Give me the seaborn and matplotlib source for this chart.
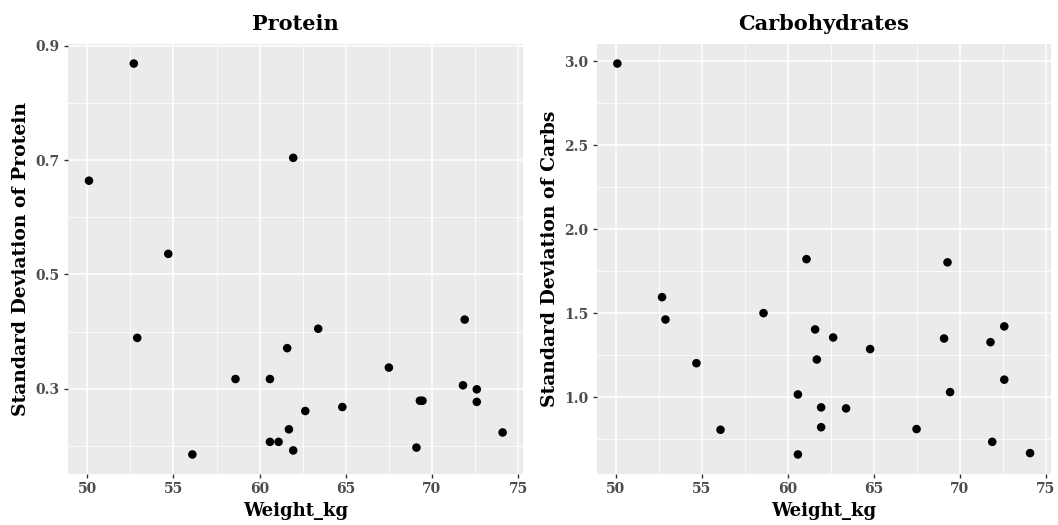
import numpy as np
import pandas as pd
import matplotlib
matplotlib.use("Agg")
import matplotlib.pyplot as plt
import seaborn as sns
from matplotlib.ticker import MultipleLocator, FixedLocator

# ---- data ----
weight_kg = [50.1, 52.7, 52.9, 54.7, 56.1, 58.6, 60.6, 60.6, 61.1, 61.6,
             61.7, 61.95, 61.95, 62.65, 63.4, 64.8, 67.5, 69.1, 69.3, 69.45,
             71.8, 71.9, 72.6, 72.6, 74.1]
sd_protein = [0.664, 0.869, 0.389, 0.536, 0.185, 0.317, 0.317, 0.207, 0.207, 0.371,
              0.229, 0.704, 0.192, 0.261, 0.405, 0.268, 0.337, 0.197, 0.279, 0.279,
              0.306, 0.421, 0.299, 0.277, 0.2235]
sd_carbs = [2.985, 1.595, 1.462, 1.202, 0.806, 1.500, 1.016, 0.659, 1.821, 1.403,
            1.224, 0.939, 0.821, 1.355, 0.933, 1.286, 0.810, 1.349, 1.802, 1.030,
            1.327, 0.734, 1.421, 1.104, 0.667]

titles = ["Protein", "Carbohydrates"]
ylabels = ["Standard Deviation of Protein", "Standard Deviation of Carbs"]
xlabel = "Weight_kg"
x_ticks = [50, 55, 60, 65, 70, 75]
protein_ticks = [0.3, 0.5, 0.7, 0.9]
carbs_ticks = [1.0, 1.5, 2.0, 2.5, 3.0]

df = pd.DataFrame({"Weight_kg": weight_kg, "Protein": sd_protein, "Carbs": sd_carbs})

sns.set_theme(style="darkgrid")
plt.rcParams["font.family"] = ["DejaVu Serif"]

fig = plt.figure(figsize=(10.58, 5.25), dpi=100)
W, H = 1058, 525
ax1 = fig.add_axes([68.3 / W, 1 - 474 / H, 455 / W, 430 / H])
ax2 = fig.add_axes([596.7 / W, 1 - 474 / H, 454 / W, 430 / H])

TICK_COLOR = "#4D4D4D"

def style(ax, col, title, ylabel, yticks, ymajor):
    sns.scatterplot(data=df, x="Weight_kg", y=col, ax=ax, color="black",
                    s=38, linewidth=0, edgecolor="none")
    ax.set_facecolor("#EBEBEB")
    x = np.asarray(df["Weight_kg"]); y = np.asarray(df[col])
    xr = x.max() - x.min(); yr = y.max() - y.min()
    ax.set_xlim(x.min() - 0.05 * xr, x.max() + 0.05 * xr)
    ax.set_ylim(y.min() - 0.05 * yr, y.max() + 0.05 * yr)
    ax.xaxis.set_major_locator(FixedLocator(x_ticks))
    ax.xaxis.set_minor_locator(MultipleLocator(2.5))
    ax.yaxis.set_major_locator(FixedLocator(yticks))
    ax.yaxis.set_minor_locator(MultipleLocator(ymajor / 2))
    ax.set_xticklabels([str(t) for t in x_ticks])
    ax.set_yticklabels([f"{t:.1f}" for t in yticks])
    ax.grid(which="major", color="white", linewidth=1.1)
    ax.grid(which="minor", color="white", linewidth=0.55)
    for sp in ax.spines.values():
        sp.set_visible(False)
    ax.tick_params(axis="both", which="major", length=3, width=1.0,
                   color="#333333", labelcolor=TICK_COLOR, labelsize=10, pad=3,
                   bottom=True, left=True)
    ax.tick_params(axis="both", which="minor", length=0)
    for lab in ax.get_xticklabels() + ax.get_yticklabels():
        lab.set_fontweight("bold")
    ax.set_title(title, fontsize=15, fontweight="bold", pad=10, color="black")
    ax.set_xlabel(xlabel, fontsize=13, fontweight="bold", labelpad=4, color="black")
    ax.set_ylabel(ylabel, fontsize=13.5, fontweight="bold", labelpad=4, color="black")

style(ax1, "Protein", titles[0], ylabels[0], protein_ticks, 0.2)
style(ax2, "Carbs", titles[1], ylabels[1], carbs_ticks, 0.5)

fig.savefig("out.png", dpi=100)
